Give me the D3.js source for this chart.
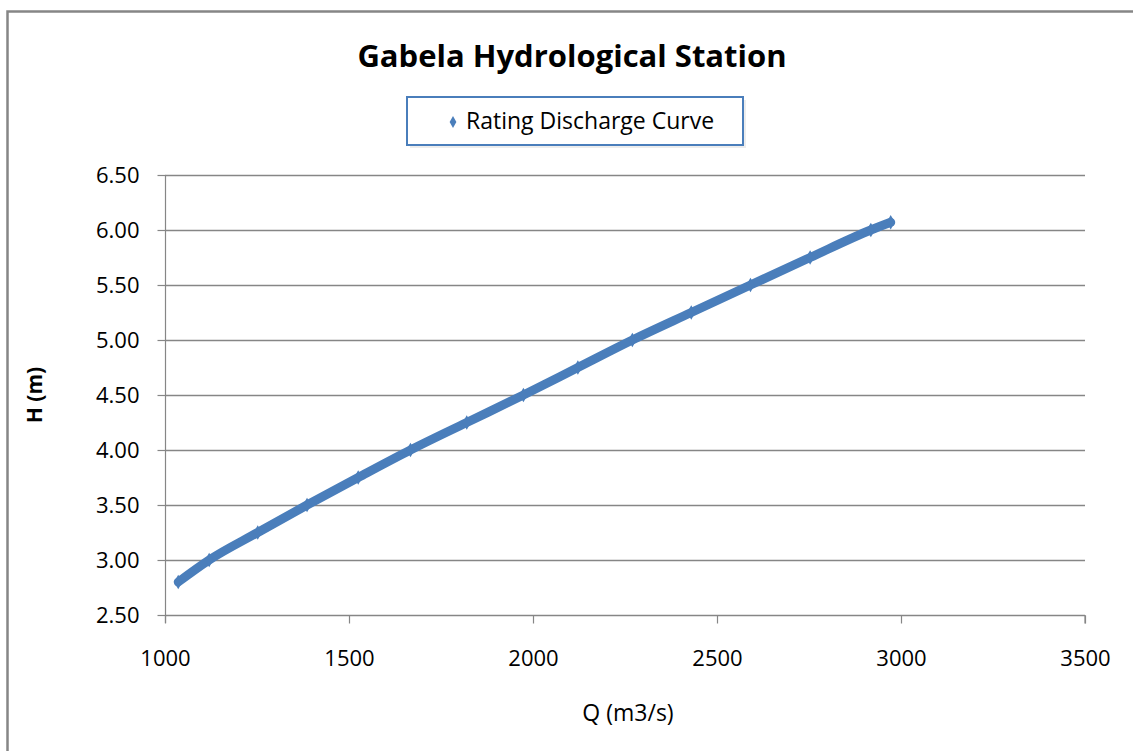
<!DOCTYPE html>
<html>
<head>
<meta charset="utf-8">
<script src="https://cdn.jsdelivr.net/npm/d3@7"></script>
<style>
  html, body { margin: 0; padding: 0; background: #fff; }
  svg { display: block; }
  text { font-family: "Open Sans", Lato, sans-serif; fill: #000; }
</style>
</head>
<body>
<svg id="chart" width="1133" height="751"></svg>
<script>
// ---- data ----
const title = "Gabela Hydrological Station";
const seriesName = "Rating Discharge Curve";
const xLabel = "Q (m3/s)";
const yLabel = "H (m)";
const discharge = [1036, 1120, 1252, 1386, 1525, 1667, 1820, 1974, 2122, 2270, 2430, 2591, 2753, 2918, 2972];
const stage     = [2.80, 3.00, 3.25, 3.50, 3.75, 4.00, 4.25, 4.50, 4.75, 5.00, 5.25, 5.50, 5.75, 6.00, 6.07];
const xTicks = [1000, 1500, 2000, 2500, 3000, 3500];
const yTicks = [2.5, 3.0, 3.5, 4.0, 4.5, 5.0, 5.5, 6.0, 6.5];

const svg = d3.select("#chart");
const grey = "#868686";
const blue = "#4A7EBB";
const font = "'Open Sans', Lato, sans-serif";

// outer chart border
svg.append("rect")
  .attr("x", 7.5).attr("y", 11.5)
  .attr("width", 1140).attr("height", 760)
  .attr("fill", "#fff").attr("stroke", grey).attr("stroke-width", 2.5);

const m = { left: 165, right: 1085, top: 175, bottom: 615 };
const x = d3.scaleLinear().domain([1000, 3500]).range([m.left, m.right]);
const y = d3.scaleLinear().domain([2.5, 6.5]).range([m.bottom, m.top]);

// gridlines
svg.append("g")
  .selectAll("line").data(yTicks).join("line")
  .attr("x1", m.left).attr("x2", m.right)
  .attr("y1", d => Math.round(y(d)) + 0.5).attr("y2", d => Math.round(y(d)) + 0.5)
  .attr("stroke", grey).attr("stroke-width", 1.3);

// y axis
const yAxis = svg.append("g")
  .attr("transform", `translate(${m.left + 0.5},0)`)
  .call(d3.axisLeft(y).tickValues(yTicks).tickFormat(d3.format(".2f")).tickSize(8).tickPadding(18));
yAxis.attr("font-size", null).attr("font-family", null);
yAxis.select(".domain").attr("stroke", grey).attr("stroke-width", 1.2)
  .attr("d", `M0,${m.top}V${m.bottom + 8}`);
yAxis.selectAll(".tick line").attr("stroke", grey).attr("stroke-width", 1.2);
yAxis.selectAll(".tick text").style("font-size", "22px").attr("fill", "#000")
  .style("font-family", font);

// x axis
const xAxis = svg.append("g")
  .attr("transform", `translate(0,${m.bottom + 0.5})`)
  .call(d3.axisBottom(x).tickValues(xTicks).tickFormat(d3.format("d")).tickSize(8).tickPadding(27));
xAxis.attr("font-size", null).attr("font-family", null);
xAxis.select(".domain").attr("stroke", grey).attr("stroke-width", 1.2)
  .attr("d", `M${m.left},0H${m.right}V8`);
xAxis.selectAll(".tick line").attr("stroke", grey).attr("stroke-width", 1.2);
xAxis.selectAll(".tick text").style("font-size", "22px").attr("fill", "#000")
  .style("font-family", font);

// data series: thick line of dense markers
const pts = discharge.map((q, i) => [q, stage[i]]);
svg.append("path")
  .datum(pts)
  .attr("fill", "none")
  .attr("stroke", blue)
  .attr("stroke-width", 9)
  .attr("stroke-linecap", "round")
  .attr("stroke-linejoin", "round")
  .attr("d", d3.line().curve(d3.curveMonotoneX).x(d => x(d[0])).y(d => y(d[1])));
svg.append("g").selectAll("path").data(pts).join("path")
  .attr("transform", d => `translate(${x(d[0])},${y(d[1])})`)
  .attr("d", d3.symbol(d3.symbolDiamond, 60))
  .attr("fill", blue);

// title
svg.append("text")
  .attr("x", 572).attr("y", 67)
  .attr("text-anchor", "middle")
  .style("font-size", "31px").style("font-weight", "bold")
  .text(title);

// legend
const lg = svg.append("g");
lg.append("rect")
  .attr("x", 410).attr("y", 100).attr("width", 336).attr("height", 48)
  .attr("fill", "#e6e6e6").attr("opacity", 0.7);
lg.append("rect")
  .attr("x", 407).attr("y", 97).attr("width", 336).attr("height", 48)
  .attr("fill", "#fff").attr("stroke", blue).attr("stroke-width", 2);
lg.append("path")
  .attr("transform", "translate(453,122)")
  .attr("d", d3.symbol(d3.symbolDiamond, 40))
  .attr("fill", blue);
lg.append("text")
  .attr("x", 466).attr("y", 129)
  .style("font-size", "23px")
  .text(seriesName);

// axis titles
svg.append("text")
  .attr("x", 628).attr("y", 721)
  .attr("text-anchor", "middle")
  .style("font-size", "23px")
  .text(xLabel);
svg.append("text")
  .attr("transform", `translate(42,395) rotate(-90)`)
  .attr("text-anchor", "middle")
  .style("font-size", "21px").style("font-weight", "bold")
  .text(yLabel);
</script>
</body>
</html>
